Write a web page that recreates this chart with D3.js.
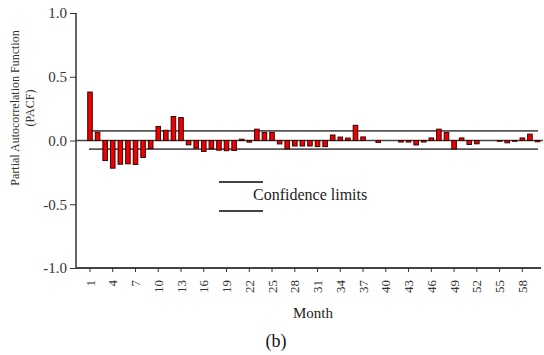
<!DOCTYPE html>
<html>
<head>
<meta charset="utf-8">
<script src="https://cdn.jsdelivr.net/npm/d3@7"></script>
<style>
body { margin: 0; background: #fff; }
</style>
</head>
<body>
<div id="chart"></div>
<script>
// PACF by lag (month)
var lags = d3.range(1, 61);
var pacf = [
	0.38, 0.065, -0.157, -0.217, -0.186, -0.183, -0.188, -0.133, -0.063, 0.11,
	0.08, 0.188, 0.18, -0.034, -0.06, -0.086, -0.065, -0.076, -0.08, -0.078,
	0.01, -0.013, 0.089, 0.063, 0.063, -0.027, -0.066, -0.043, -0.043, -0.043,
	-0.048, -0.048, 0.043, 0.027, 0.019, 0.119, 0.028, 0, -0.015, 0,
	0, -0.012, -0.012, -0.035, -0.012, 0.02, 0.089, 0.063, -0.066, 0.02,
	-0.031, -0.026, 0, 0, -0.006, -0.018, -0.006, 0.02, 0.05, -0.01
];
var confLimits = [0.075, -0.067];
var yTicks = [-1.0, -0.5, 0.0, 0.5, 1.0];
var xTicks = d3.range(1, 59, 3);

var width = 544;
var height = 355;
var serif = '"Liberation Serif", "Times New Roman", serif';

var svg = d3.select("#chart").append("svg")
	.attr("width", width)
	.attr("height", height)
	.attr("font-family", serif);

var x = d3.scaleBand()
	.domain(lags)
	.range([86.2, 541.3])
	.paddingInner(0.4)
	.paddingOuter(0.2);

var y = d3.scaleLinear()
	.domain([-1, 1])
	.range([268, 13]);

var axisX0 = 76;

// y axis
var yAxis = svg.append("g")
	.attr("transform", "translate(" + axisX0 + ",0)")
	.call(d3.axisLeft(y).tickValues(yTicks)
		.tickFormat(function(d) { return d.toFixed(1); })
		.tickSize(6).tickPadding(3))
	.attr("font-family", serif)
	.attr("font-size", 15);
yAxis.select(".domain").attr("stroke", "#333").attr("stroke-width", 1.5)
	.attr("d", "M0," + y(1) + "V" + y(-1));
yAxis.selectAll(".tick line").attr("stroke", "#333");
yAxis.selectAll("text").attr("fill", "#333");

// x axis
var xAxis = svg.append("g")
	.attr("transform", "translate(0," + y(-1) + ")")
	.call(d3.axisBottom(x).tickValues(xTicks).tickSize(4).tickSizeOuter(0))
	.attr("font-family", serif)
	.attr("font-size", 13);
xAxis.select(".domain").attr("stroke", "#444").attr("stroke-width", 2)
	.attr("d", "M" + axisX0 + ",0H541");
xAxis.selectAll(".tick line").attr("stroke", "#333");
xAxis.selectAll("text")
	.attr("fill", "#333")
	.attr("transform", "rotate(-90)")
	.attr("text-anchor", "end")
	.attr("x", -12)
	.attr("y", 0)
	.attr("dy", "0.35em");

// zero line
svg.append("line")
	.attr("x1", axisX0).attr("x2", 543)
	.attr("y1", y(0)).attr("y2", y(0))
	.attr("stroke", "#444").attr("stroke-width", 1.5);

// confidence limits
svg.selectAll(".conf").data(confLimits)
	.enter().append("line")
	.attr("class", "conf")
	.attr("x1", 89).attr("x2", 538)
	.attr("y1", function(d) { return y(d); })
	.attr("y2", function(d) { return y(d); })
	.attr("stroke", "#555").attr("stroke-width", 1.8);

// bars
svg.selectAll(".bar").data(pacf)
	.enter().append("rect")
	.attr("class", "bar")
	.attr("x", function(d, i) { return x(lags[i]); })
	.attr("width", x.bandwidth())
	.attr("y", function(d) { return y(Math.max(0, d)); })
	.attr("height", function(d) { return Math.abs(y(d) - y(0)); })
	.attr("fill", "#ee0000")
	.attr("stroke", "#3a0000")
	.attr("stroke-width", 1);

// legend
var legend = svg.append("g");
legend.selectAll("line").data([182, 211])
	.enter().append("line")
	.attr("x1", 219).attr("x2", 263)
	.attr("y1", function(d) { return d; })
	.attr("y2", function(d) { return d; })
	.attr("stroke", "#444").attr("stroke-width", 1.8);
legend.append("text")
	.attr("x", 253).attr("y", 200)
	.attr("font-size", 16)
	.attr("fill", "#222")
	.text("Confidence limits");

// axis titles
svg.append("text")
	.attr("transform", "translate(19,108) rotate(-90)")
	.attr("text-anchor", "middle")
	.attr("font-size", 12)
	.attr("fill", "#333")
	.text("Partial Autocorrelation Function");
svg.append("text")
	.attr("transform", "translate(34,108) rotate(-90)")
	.attr("text-anchor", "middle")
	.attr("font-size", 12)
	.attr("fill", "#333")
	.text("(PACF)");

svg.append("text")
	.attr("x", 313).attr("y", 318)
	.attr("text-anchor", "middle")
	.attr("font-size", 15)
	.attr("fill", "#222")
	.text("Month");

svg.append("text")
	.attr("x", 276).attr("y", 347)
	.attr("text-anchor", "middle")
	.attr("font-size", 18)
	.attr("fill", "#111")
	.text("(b)");
</script>
</body>
</html>
